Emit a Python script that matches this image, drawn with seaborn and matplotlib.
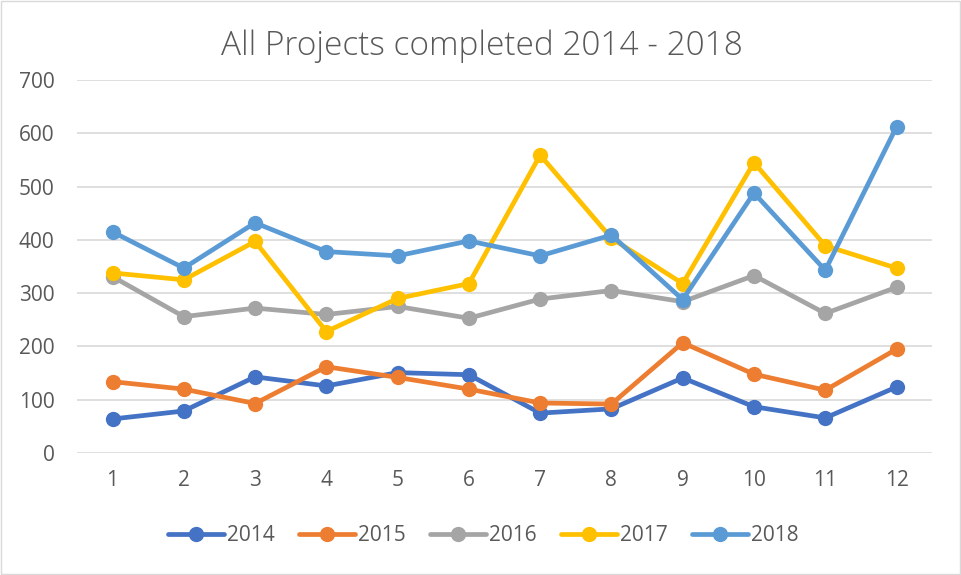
import pandas as pd
import seaborn as sns
import matplotlib.pyplot as plt

# Monthly completed projects
months = list(range(1, 13))
y2014 = [64, 79, 143, 126, 151, 147, 75, 83, 141, 87, 66, 124]
y2015 = [134, 120, 93, 162, 142, 120, 94, 92, 207, 148, 118, 195]
y2016 = [331, 256, 272, 260, 275, 253, 289, 305, 284, 333, 262, 311]
y2017 = [338, 325, 397, 228, 290, 318, 559, 403, 318, 545, 389, 347]
y2018 = [415, 347, 432, 378, 370, 398, 370, 409, 288, 488, 343, 612]
years = ['2014', '2015', '2016', '2017', '2018']
colors = ['#4472C4', '#ED7D31', '#A5A5A5', '#FFC000', '#5B9BD5']

rows = []
for yr, vals in zip(years, [y2014, y2015, y2016, y2017, y2018]):
    for m, v in zip(months, vals):
        rows.append({'Month': m, 'Projects': v, 'Year': yr})
df = pd.DataFrame(rows)

sns.set_style('white')
plt.rcParams['font.family'] = ['Open Sans', 'DejaVu Sans']
txt = '#595959'

fig = plt.figure(figsize=(9.61, 5.75), dpi=100)
ax = fig.add_axes([0.080, 0.212, 0.890, 0.649])

sns.lineplot(data=df, x='Month', y='Projects', hue='Year', hue_order=years,
             palette=colors, marker='o', markersize=11, markeredgewidth=0,
             linewidth=3.4, ax=ax, legend=True)

ax.set_xlim(0.5, 12.5)
ax.set_ylim(0, 700)
ax.set_xticks(months)
ax.set_yticks(range(0, 701, 100))
ax.yaxis.grid(True, color='#D9D9D9', linewidth=1.2)
ax.set_axisbelow(True)
for s in ax.spines.values():
    s.set_visible(False)
ax.tick_params(axis='both', colors=txt, labelsize=15, length=0)
ax.tick_params(axis='y', pad=16)
ax.tick_params(axis='x', pad=12)
ax.set_xlabel('')
ax.set_ylabel('')

fig.text(0.502, 0.905, 'All Projects completed 2014 - 2018', ha='center',
         va='baseline', fontsize=24, color=txt, fontweight='light')

handles, labels = ax.get_legend_handles_labels()
ax.get_legend().remove()
fig.legend(handles, labels, loc='center', bbox_to_anchor=(0.503, 0.068), ncol=5,
           frameon=False, fontsize=15, labelcolor=txt, handlelength=2.7,
           handletextpad=0.15, columnspacing=1.15)

fig.patches.append(plt.Rectangle((0.001, 0.001), 0.998, 0.998, transform=fig.transFigure,
                                 fill=False, edgecolor='#D9D9D9', linewidth=1))

fig.savefig('out.png', dpi=100)
